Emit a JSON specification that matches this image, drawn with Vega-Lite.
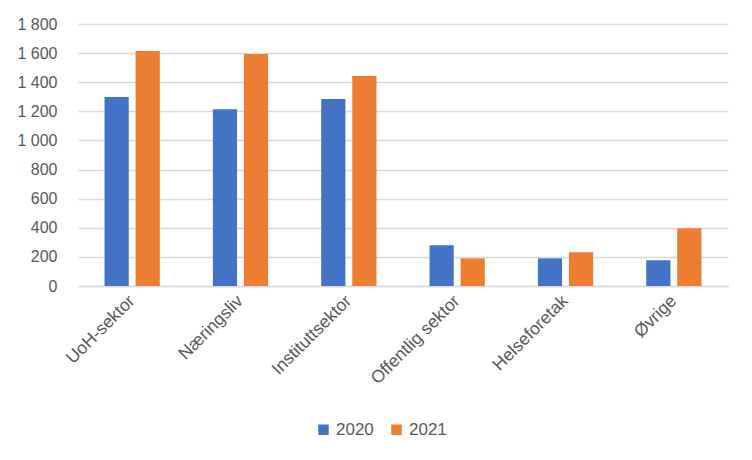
{
  "$schema": "https://vega.github.io/schema/vega-lite/v6.json",
  "width": 650,
  "height": 262,
  "autosize": {"type": "none"},
  "padding": {"left": 78, "top": 24, "right": 24, "bottom": 174},
  "background": "white",
  "data": {
    "values": [
      {"sektor": "UoH-sektor", "year": "2020", "value": 1298},
      {"sektor": "UoH-sektor", "year": "2021", "value": 1614},
      {"sektor": "Næringsliv", "year": "2020", "value": 1215},
      {"sektor": "Næringsliv", "year": "2021", "value": 1594},
      {"sektor": "Instituttsektor", "year": "2020", "value": 1284},
      {"sektor": "Instituttsektor", "year": "2021", "value": 1442},
      {"sektor": "Offentlig sektor", "year": "2020", "value": 280},
      {"sektor": "Offentlig sektor", "year": "2021", "value": 190},
      {"sektor": "Helseforetak", "year": "2020", "value": 190},
      {"sektor": "Helseforetak", "year": "2021", "value": 232},
      {"sektor": "Øvrige", "year": "2020", "value": 177},
      {"sektor": "Øvrige", "year": "2021", "value": 397}
    ]
  },
  "mark": {"type": "bar"},
  "encoding": {
    "x": {
      "field": "sektor",
      "type": "nominal",
      "sort": null,
      "scale": {"paddingInner": 0.49, "paddingOuter": 0.245},
      "axis": {
        "title": null,
        "labelAngle": -45,
        "labelAlign": "right",
        "labelBaseline": "middle",
        "labelPadding": 12,
        "labelFontSize": 17.5,
        "labelDx": 4,
        "ticks": false,
        "domainColor": "#d9d9d9",
        "domainWidth": 1.5,
        "grid": false
      }
    },
    "xOffset": {
      "field": "year",
      "type": "nominal",
      "scale": {"paddingInner": 0.22, "paddingOuter": 0}
    },
    "y": {
      "field": "value",
      "type": "quantitative",
      "scale": {"domain": [0, 1800]},
      "axis": {
        "title": null,
        "values": [0, 200, 400, 600, 800, 1000, 1200, 1400, 1600, 1800],
        "labelExpr": "replace(format(datum.value, ','), ',', ' ')",
        "domain": false,
        "ticks": false,
        "labelPadding": 21,
        "gridColor": "#d9d9d9",
        "gridWidth": 1.5
      }
    },
    "color": {
      "field": "year",
      "type": "nominal",
      "scale": {"range": ["#4472C4", "#ED7D31"]},
      "legend": {
        "title": null,
        "orient": "none",
        "direction": "horizontal",
        "legendX": 237,
        "legendY": 397,
        "symbolType": "square",
        "symbolSize": 110,
        "symbolStrokeWidth": 0,
        "columnPadding": 14,
        "labelOffset": 4,
        "labelFontSize": 17
      }
    }
  },
  "config": {
    "view": {"stroke": null},
    "font": "Liberation Sans",
    "axis": {"labelFont": "Liberation Sans", "labelFontSize": 16, "labelColor": "#595959"},
    "legend": {"labelFont": "Liberation Sans", "labelFontSize": 16, "labelColor": "#595959"}
  }
}
